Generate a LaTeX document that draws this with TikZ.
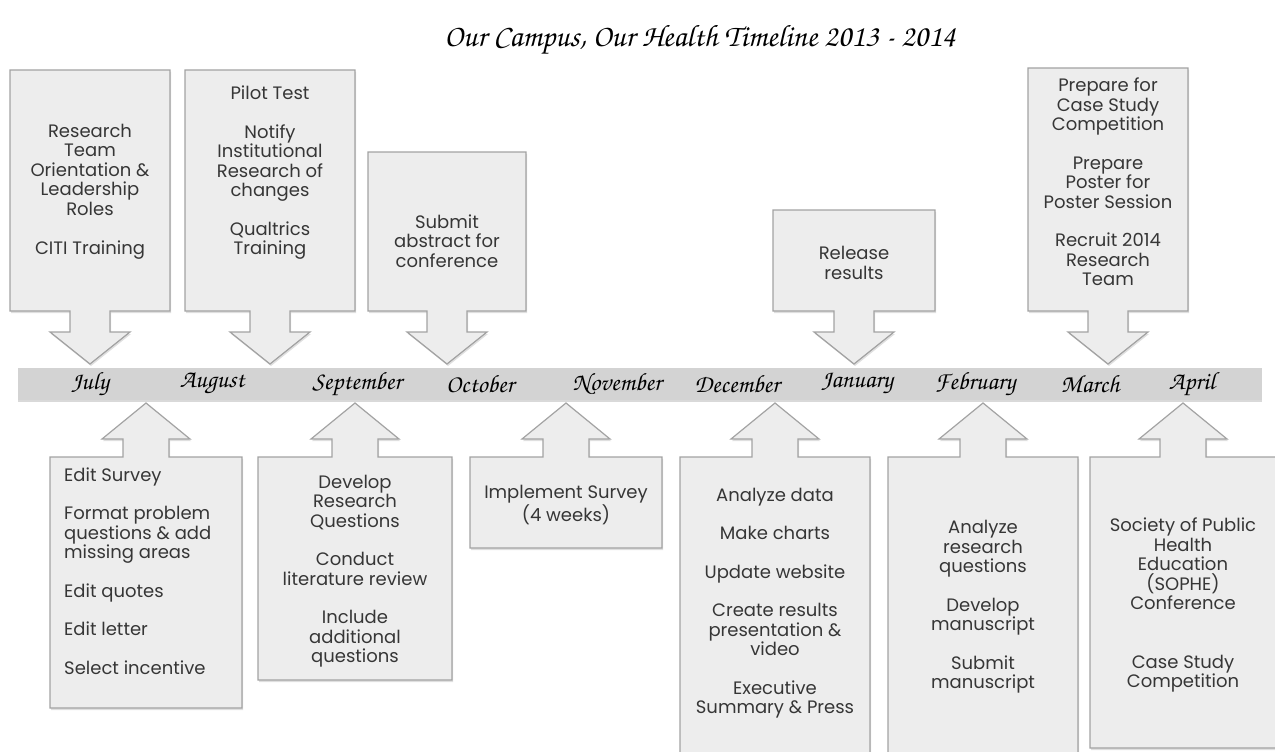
\documentclass[tikz,border=0pt]{standalone}
\usepackage[T1]{fontenc}
\usepackage{fontspec}
\usepackage{tikz}
\usetikzlibrary{shadows}

\newfontfamily\boxfont{Poppins}
\newcommand{\handfont}{\fontencoding{T1}\fontfamily{pzc}\selectfont}

\definecolor{boxfill}{HTML}{EDEDED}
\definecolor{boxline}{HTML}{A3A3A3}
\definecolor{notegray}{HTML}{363636}
\definecolor{barfill}{HTML}{D3D3D3}

\tikzset{
callout/.style={draw=boxline, fill=boxfill, line width=1.2pt, line join=miter,
  drop shadow={shadow xshift=1pt, shadow yshift=-2pt, opacity=0.25}},
note/.style={font={\boxfont\fontsize{18}{19.5}\selectfont}, text=notegray, align=center, inner sep=0pt},
month/.style={font={\handfont\fontsize{25}{25}\selectfont}, text=black, inner sep=0pt}
}

% callout pointing down to the bar: centre, half width, top
\newcommand{\downcall}[3]{%
  \draw[callout] (#1,364) -- (#1+40,332) -- (#1+20,332) -- (#1+20,311) -- (#1+#2,311)
    -- (#1+#2,#3) -- (#1-#2,#3) -- (#1-#2,311) -- (#1-20,311) -- (#1-20,332)
    -- (#1-40,332) -- cycle;}
% callout pointing up to the bar: centre, half width, bottom
\newcommand{\upcall}[3]{%
  \draw[callout] (#1,403) -- (#1+44,439) -- (#1+23,439) -- (#1+23,457) -- (#1+#2,457)
    -- (#1+#2,#3) -- (#1-#2,#3) -- (#1-#2,457) -- (#1-23,457) -- (#1-23,439)
    -- (#1-44,439) -- cycle;}

\begin{document}
\begin{tikzpicture}[x=1pt, y=-1pt]
    \useasboundingbox (0,0) rectangle (1275,752);

    \node[font={\handfont\fontsize{31}{31}\selectfont}] (title) at (700,40)
      {Our Campus, Our Health Timeline 2013 - 2014};

    % the bar
    \fill[barfill, drop shadow={shadow xshift=0pt, shadow yshift=-2pt, opacity=0.3}]
      (18,368) rectangle (1262,400);
    \foreach \m/\x/\name in {July/90/jul, August/212/aug, September/357/sep,
      October/480/oct, November/617/nov, December/737/dec, January/857/jan,
      February/975/feb, March/1090/mar, April/1192/apr}
      \node[month] (\name) at (\x,384) {\m};

    % above the bar
    \downcall{90}{80}{70}
    \downcall{270}{85}{70}
    \downcall{447}{79}{152}
    \downcall{854}{81}{210}
    \downcall{1108}{80}{68}
    \node[note] (julnote) at (90,192) {Research\\Team\\Orientation \&\\Leadership\\Roles\\[20pt]CITI Training};
    \node[note] (augnote) at (270,173) {Pilot Test\\[19pt]Notify\\Institutional\\Research of\\changes\\[19pt]Qualtrics\\Training};
    \node[note] (sepnote) at (447,241) {Submit\\abstract for\\conference};
    \node[note] (jannote) at (854,263) {Release\\results};
    \node[note] (marnote) at (1108,182) {Prepare for\\Case Study\\Competition\\[19pt]Prepare\\Poster for\\Poster Session\\[19pt]Recruit 2014\\Research\\Team};

    % below the bar
    \upcall{146}{96}{708}
    \upcall{355}{97}{680}
    \upcall{566}{96}{548}
    \upcall{775}{95}{775}
    \upcall{983}{95}{775}
    \upcall{1183}{93}{748}
    \node[note, align=left, anchor=west] (augtask) at (64,571) {Edit Survey\\[19pt]Format problem\\questions \& add\\missing areas\\[19pt]Edit quotes\\[19pt]Edit letter\\[19pt]Select incentive};
    \node[note] (septask) at (355,571) {Develop\\Research\\Questions\\[19pt]Conduct\\literature review\\[19pt]Include\\additional\\questions};
    \node[note] (novtask) at (566,505) {Implement Survey\\(4 weeks)};
    \node[note] (dectask) at (775,603) {Analyze data\\[19pt]Make charts\\[19pt]Update website\\[19pt]Create results\\presentation \&\\video\\[19pt]Executive\\Summary \& Press};
    \node[note] (febtask) at (983,607) {Analyze\\research\\questions\\[19pt]Develop\\manuscript\\[19pt]Submit\\manuscript};
    \node[note] (aprtask) at (1183,605) {Society of Public\\Health\\Education\\(SOPHE)\\Conference\\[39pt]Case Study\\Competition};
\end{tikzpicture}
\end{document}
